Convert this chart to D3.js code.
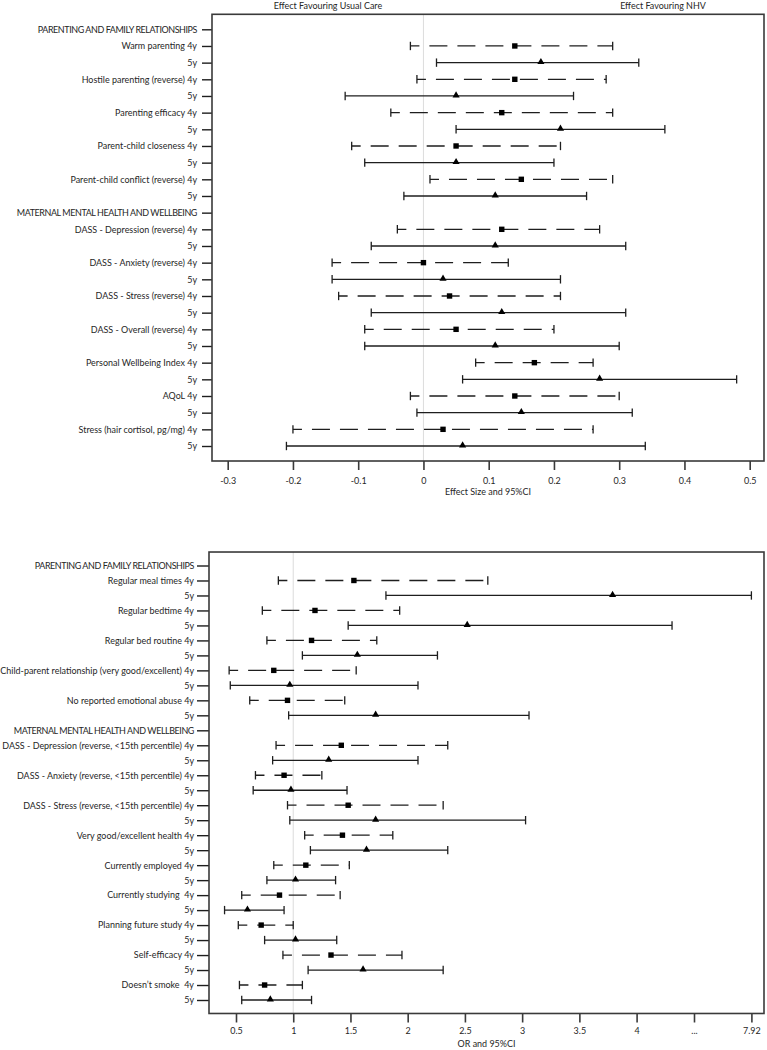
<!DOCTYPE html>
<html>
<head>
<meta charset="utf-8">
<script src="https://cdn.jsdelivr.net/npm/d3@7/dist/d3.min.js"></script>
<style>
  html, body { margin: 0; padding: 0; background: #fff; }
  svg { display: block; }
  text { font-family: Lato, "Open Sans", sans-serif; fill: #262626; white-space: pre; }
</style>
</head>
<body>
<svg id="chart" width="767" height="1050"></svg>
<script>
// ---------------- DATA ----------------
// Top panel: effect sizes and 95% CI
const topLabels = [
  "PARENTING AND FAMILY RELATIONSHIPS",
  "Warm parenting 4y", "5y",
  "Hostile parenting (reverse) 4y", "5y",
  "Parenting efficacy 4y", "5y",
  "Parent-child closeness 4y", "5y",
  "Parent-child conflict (reverse) 4y", "5y",
  "MATERNAL MENTAL HEALTH AND WELLBEING",
  "DASS - Depression (reverse) 4y", "5y",
  "DASS - Anxiety (reverse) 4y", "5y",
  "DASS - Stress (reverse) 4y", "5y",
  "DASS - Overall (reverse) 4y", "5y",
  "Personal Wellbeing Index 4y", "5y",
  "AQoL 4y", "5y",
  "Stress (hair cortisol, pg/mg) 4y", "5y"
];
const topWave = [null,"4y","5y","4y","5y","4y","5y","4y","5y","4y","5y",
  null,"4y","5y","4y","5y","4y","5y","4y","5y","4y","5y","4y","5y","4y","5y"];
const topEst  = [null, 0.14, 0.18, 0.14, 0.05, 0.12, 0.21, 0.05, 0.05, 0.15, 0.11,
  null, 0.12, 0.11, 0.00, 0.03, 0.04, 0.12, 0.05, 0.11, 0.17, 0.27, 0.14, 0.15, 0.03, 0.06];
const topLow  = [null, -0.02, 0.02, -0.01, -0.12, -0.05, 0.05, -0.11, -0.09, 0.01, -0.03,
  null, -0.04, -0.08, -0.14, -0.14, -0.13, -0.08, -0.09, -0.09, 0.08, 0.06, -0.02, -0.01, -0.20, -0.21];
const topHigh = [null, 0.29, 0.33, 0.28, 0.23, 0.29, 0.37, 0.21, 0.20, 0.29, 0.25,
  null, 0.27, 0.31, 0.13, 0.21, 0.21, 0.31, 0.20, 0.30, 0.26, 0.48, 0.30, 0.32, 0.26, 0.34];
const topTicks = [-0.3, -0.2, -0.1, 0, 0.1, 0.2, 0.3, 0.4, 0.5];
const topTickLabels = ["-0.3", "-0.2", "-0.1", "0", "0.1", "0.2", "0.3", "0.4", "0.5"];
const topXTitle = "Effect Size and 95%CI";
const topHeadLeft = "Effect Favouring Usual Care";
const topHeadRight = "Effect Favouring NHV";

// Bottom panel: odds ratios and 95% CI
const botLabels = [
  "PARENTING AND FAMILY RELATIONSHIPS",
  "Regular meal times 4y", "5y",
  "Regular bedtime 4y", "5y",
  "Regular bed routine 4y", "5y",
  "Child-parent relationship (very good/excellent) 4y", "5y",
  "No reported emotional abuse 4y", "5y",
  "MATERNAL MENTAL HEALTH AND WELLBEING",
  "DASS - Depression (reverse, <15th percentile) 4y", "5y",
  "DASS - Anxiety (reverse, <15th percentile) 4y", "5y",
  "DASS - Stress (reverse, <15th percentile) 4y", "5y",
  "Very good/excellent health 4y", "5y",
  "Currently employed 4y", "5y",
  "Currently studying  4y", "5y",
  "Planning future study 4y", "5y",
  "Self-efficacy 4y", "5y",
  "Doesn\u2019t smoke  4y", "5y"
];
const botWave = [null,"4y","5y","4y","5y","4y","5y","4y","5y","4y","5y",
  null,"4y","5y","4y","5y","4y","5y","4y","5y","4y","5y","4y","5y","4y","5y","4y","5y","4y","5y"];
const botEst  = [null, 1.53, 3.79, 1.19, 2.52, 1.16, 1.56, 0.83, 0.97, 0.95, 1.72,
  null, 1.42, 1.31, 0.92, 0.98, 1.48, 1.72, 1.43, 1.64, 1.11, 1.02, 0.88, 0.60, 0.72, 1.02, 1.33, 1.61, 0.75, 0.80];
const botLow  = [null, 0.87, 1.81, 0.73, 1.48, 0.77, 1.08, 0.44, 0.45, 0.62, 0.96,
  null, 0.85, 0.82, 0.67, 0.65, 0.95, 0.97, 1.10, 1.15, 0.83, 0.77, 0.55, 0.40, 0.52, 0.75, 0.91, 1.13, 0.53, 0.55];
const botHigh = [null, 2.70, 7.92, 1.93, 5.21, 1.73, 2.26, 1.55, 2.09, 1.45, 3.06,
  null, 2.35, 2.09, 1.25, 1.47, 2.31, 3.03, 1.87, 2.35, 1.49, 1.37, 1.41, 0.92, 1.00, 1.38, 1.95, 2.31, 1.08, 1.16];
const botTicks = [0.5, 1, 1.5, 2, 2.5, 3, 3.5, 4, 5.96, 7.92];
const botTickLabels = ["0.5", "1", "1.5", "2", "2.5", "3", "3.5", "4", "...", "7.92"];
const botXTitle = "OR and 95%CI";

// ---------------- DRAWING ----------------
const svg = d3.select("#chart");
const ink = "#1e1e1e";
const frameCol = "#3a3a3a";

// Fit font size so the longest label spans the observed width
const probe = svg.append("text").style("font-size", "10px")
  .text("Child-parent relationship (very good/excellent) 4y");
const probeW = probe.node().getComputedTextLength();
probe.remove();
const fs = Math.min(9, 10 * 194 / probeW);

function drawPanel(cfg) {
  const g = svg.append("g");
  const rows = cfg.labels.map((d, i) => i);
  const y = d3.scalePoint().domain(rows).range([cfg.rowTop, cfg.rowBottom]);
  const x = cfg.x;
  const step = y.step();
  const fTop = cfg.rowTop - step * 0.9, fBot = cfg.rowBottom + step * 0.9;

  // reference line
  g.append("line")
    .attr("x1", x(cfg.ref)).attr("x2", x(cfg.ref))
    .attr("y1", fTop).attr("y2", fBot)
    .attr("stroke", "#dcdcdc").attr("stroke-width", 1);

  // y axis ticks + labels
  const yAxis = d3.axisLeft(y).tickSize(cfg.yTick).tickPadding(cfg.yPad)
    .tickFormat(i => cfg.labels[i]);
  const ya = g.append("g").attr("transform", `translate(${cfg.left},0)`).call(yAxis);
  ya.select(".domain").remove();
  ya.selectAll(".tick line").attr("stroke", ink).attr("stroke-width", 1.4);
  ya.selectAll(".tick text").style("font-size", fs + "px").style("font-family", "Lato, sans-serif")
    .attr("fill", "#2a2a2a")
    .style("letter-spacing", i => cfg.wave[i] == null ? "-0.42px" : null);

  // x axis
  const xAxis = d3.axisBottom(x).tickValues(cfg.ticks).tickSize(9).tickPadding(cfg.xPad)
    .tickFormat((d, i) => cfg.tickLabels[i]);
  const xa = g.append("g").attr("transform", `translate(0,${fBot})`).call(xAxis);
  xa.select(".domain").remove();
  xa.selectAll(".tick line").attr("stroke", frameCol).attr("stroke-width", 1.6);
  xa.selectAll(".tick text").style("font-size", fs + "px").style("font-family", "Lato, sans-serif")
    .attr("fill", "#2a2a2a");

  g.append("text")
    .attr("x", (cfg.left + cfg.right) / 2).attr("y", fBot + cfg.titleDy)
    .attr("text-anchor", "middle").style("font-size", fs + "px")
    .text(cfg.title);

  // CIs
  const data = rows.filter(i => cfg.est[i] != null).map(i => ({
    i, wave: cfg.wave[i], est: cfg.est[i], lo: cfg.low[i], hi: cfg.high[i]
  }));
  const cg = g.append("g");
  data.forEach(d => {
    const yy = y(d.i);
    const dashed = d.wave === "4y";
    cg.append("line")
      .attr("x1", x(d.lo)).attr("x2", x(d.hi)).attr("y1", yy).attr("y2", yy)
      .attr("stroke", ink).attr("stroke-width", 1.3)
      .attr("stroke-dasharray", dashed ? "18 10" : null)
      .attr("stroke-dashoffset", dashed ? 9 : null);
    [d.lo, d.hi].forEach(v => {
      cg.append("line")
        .attr("x1", x(v)).attr("x2", x(v)).attr("y1", yy - 4.2).attr("y2", yy + 4.2)
        .attr("stroke", ink).attr("stroke-width", 1.3);
    });
    if (dashed) {
      cg.append("rect").attr("x", x(d.est) - 2.7).attr("y", yy - 2.7)
        .attr("width", 5.4).attr("height", 5.4).attr("fill", "#000");
    } else {
      cg.append("path")
        .attr("d", d3.symbol(d3.symbolTriangle, 22)())
        .attr("transform", `translate(${x(d.est)},${yy - 0.6})`)
        .attr("fill", "#000");
    }
  });

  // frame
  g.append("rect")
    .attr("x", cfg.left).attr("y", fTop)
    .attr("width", cfg.right - cfg.left).attr("height", fBot - fTop)
    .attr("fill", "none").attr("stroke", frameCol).attr("stroke-width", 1.6);
  return { g, fTop, fBot };
}

// Top panel
const xTop = d3.scaleLinear().domain([-0.3, 0.5]).range([227.7, 749.7]);
drawPanel({
  labels: topLabels, wave: topWave, est: topEst, low: topLow, high: topHigh,
  x: xTop, ref: 0, ticks: topTicks, tickLabels: topTickLabels, title: topXTitle,
  rowTop: 29.3, rowBottom: 446, left: 212, right: 764, yTick: 10, yPad: 5, xPad: 8, titleDy: 34
});
svg.append("text").attr("x", 328).attr("y", 8.5).attr("text-anchor", "middle")
  .style("font-size", fs + "px").text(topHeadLeft);
svg.append("text").attr("x", 663).attr("y", 8.5).attr("text-anchor", "middle")
  .style("font-size", fs + "px").text(topHeadRight);

// Bottom panel (axis break between 4 and 7.92)
const xBot = d3.scaleLinear().domain([0.5, 4, 7.92]).range([236, 636.6, 751.4]);
drawPanel({
  labels: botLabels, wave: botWave, est: botEst, low: botLow, high: botHigh,
  x: xBot, ref: 1, ticks: botTicks, tickLabels: botTickLabels, title: botXTitle,
  rowTop: 565.5, rowBottom: 1000, left: 209, right: 764, yTick: 12, yPad: 3, xPad: 5, titleDy: 33.5
});
</script>
</body>
</html>
